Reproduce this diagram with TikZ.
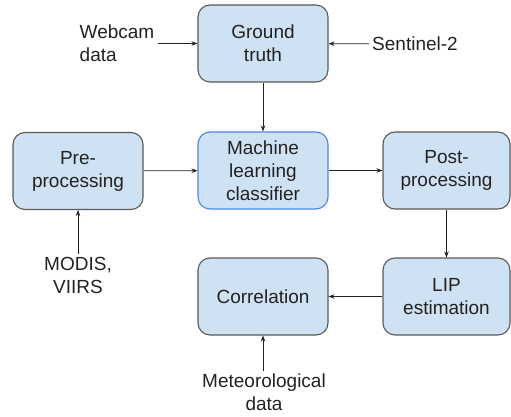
\documentclass[tikz,border=0pt]{standalone}
\usepackage{fontspec}
\setmainfont{Liberation Sans}
\usepackage{tikz}
\usetikzlibrary{arrows.meta}
\definecolor{boxfill}{HTML}{CFE2F3}
\definecolor{boxline}{HTML}{595959}
\definecolor{mlline}{HTML}{4A86E8}
\definecolor{txt}{HTML}{222222}
\tikzset{
  stagebox/.style={draw=boxline,line width=1.1pt,fill=boxfill,rounded corners=12pt,
    minimum width=130pt,minimum height=77pt,align=center,text=txt,inner sep=0pt},
  srctext/.style={text=txt,inner sep=3pt},
  arr/.style={-{Stealth[length=6pt,width=4.5pt]},draw=txt,line width=0.8pt}
}

\begin{document}
\begin{tikzpicture}[x=1pt,y=-1pt,font=\fontsize{19}{23}\selectfont]
\useasboundingbox (0,0) rectangle (511,417);
% boxes
\node[stagebox] (gt) at (263,43.5) {Ground\\truth};
\node[stagebox,draw=mlline] (ml) at (263,170.5) {Machine\\learning\\classifier};
\node[stagebox] (pre) at (78,171) {Pre-\\processing};
\node[stagebox,minimum width=127pt] (post) at (446.5,170.5) {Post-\\processing};
\node[stagebox,minimum width=127pt] (lip) at (446.5,296.5) {LIP\\estimation};
\node[stagebox] (corr) at (263,296.5) {Correlation};
% data sources
\node[srctext,align=left] (webcam) at (117,43.5) {Webcam\\data};
\node[srctext,anchor=west] (sentinel) at (369,44) {Sentinel-2};
\node[srctext,align=center,anchor=north] (modis) at (78,254) {MODIS,\\VIIRS};
\node[srctext,align=center,anchor=north] (meteo) at (264,371) {Meteorological\\data};
% connectors
\draw[arr] (webcam) -- (gt);
\draw[arr] (sentinel) -- (gt);
\draw[arr] (gt) -- (ml);
\draw[arr] (pre) -- (ml);
\draw[arr] (ml) -- (post);
\draw[arr] (post) -- (lip);
\draw[arr] (lip) -- (corr);
\draw[arr] (modis) -- (pre);
\draw[arr] (meteo.north -| corr) -- (corr);
\end{tikzpicture}
\end{document}
